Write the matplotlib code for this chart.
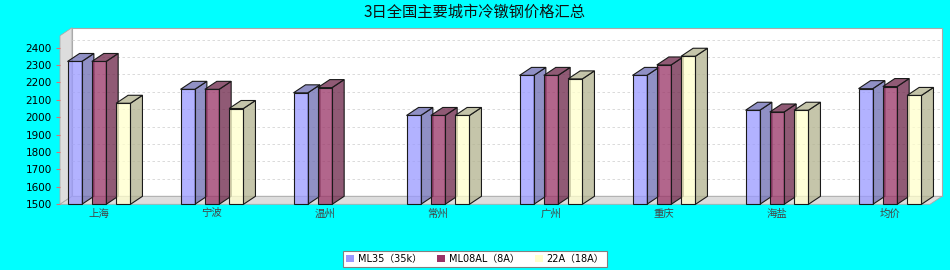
import matplotlib
matplotlib.use("Agg")
import numpy as np
import matplotlib.pyplot as plt
from matplotlib.patches import Polygon, Patch

plt.rcParams['font.family'] = ['DejaVu Sans', 'Noto Sans CJK SC']

title = "3日全国主要城市冷镦钢价格汇总"
cities = ["上海", "宁波", "温州", "常州", "广州", "重庆", "海盐", "均价"]
series_names = ["ML35（35k）", "ML08AL（8A）", "22A（18A）"]
ml35 = [2320, 2160, 2140, 2010, 2240, 2240, 2040, 2164]
ml08al = [2320, 2160, 2170, 2010, 2240, 2300, 2030, 2176]
a22 = [2080, 2050, None, 2010, 2220, 2350, 2040, 2125]
yticks = list(range(1500, 2500, 100))

colors = ["#9999FF", "#993366", "#FFFFCC"]
ALPHA = 0.75


def darker(c):
    # java.awt.Color.darker()
    r, g, b = matplotlib.colors.to_rgb(c)
    return (int(r * 255 * 0.7) / 255, int(g * 255 * 0.7) / 255, int(b * 255 * 0.7) / 255)


def rgba(c, a):
    r, g, b = matplotlib.colors.to_rgb(c)
    return (r, g, b, a)


W, H = 950, 270
fig = plt.figure(figsize=(W / 100, H / 100), dpi=100, facecolor='#00FFFF')
# front face of the 3D plot area, in pixels
L, R, T, B = 60, 930, 35.7, 204.3
ax = fig.add_axes([L / W, (H - B) / H, (R - L) / W, (B - T) / H])
ax.set_facecolor('none')
for s in ax.spines.values():
    s.set_visible(False)

x0, x1 = -0.345, 7.354
y0, y1 = 1500, 2468
ax.set_xlim(x0, x1)
ax.set_ylim(y0, y1)

# 3D depth: 12 px right, 8 px up
dx = 12 * (x1 - x0) / (R - L)
dy = 8 * (y1 - y0) / (B - T)

wall = '#DDDDDD'
wall_edge = '#AAAAAA'
# back wall
ax.add_patch(Polygon([(x0 + dx, y0 + dy), (x0 + dx, y1 + dy), (x1 + dx, y1 + dy), (x1 + dx, y0 + dy)],
                     closed=True, facecolor='white', edgecolor=wall_edge, lw=0.8, clip_on=False, zorder=0))
# left wall
ax.add_patch(Polygon([(x0, y0), (x0, y1), (x0 + dx, y1 + dy), (x0 + dx, y0 + dy)],
                     closed=True, facecolor=wall, edgecolor=wall_edge, lw=0.6, clip_on=False, zorder=0.2))
# floor
ax.add_patch(Polygon([(x0, y0), (x0 + dx, y0 + dy), (x1 + dx, y0 + dy), (x1, y0)],
                     closed=True, facecolor=wall, edgecolor=wall_edge, lw=0.6, clip_on=False, zorder=0.2))

# gridlines on the back wall
for v in yticks[1:]:
    ax.plot([x0 + dx, x1 + dx], [v + dy, v + dy], color='#D4D4D4', lw=0.6,
            ls=(0, (3, 3)), clip_on=False, zorder=0.5)

# bars
w = 0.127
step = 0.215
series = [ml35, ml08al, a22]
z = 2.0
for i in range(len(cities)):
    for j, vals in enumerate(series):
        v = vals[i]
        if v is None:
            continue
        left = i + (j - 1) * step - w / 2
        right = left + w
        z += 0.01
        side = darker(colors[j])
        ax.add_patch(Polygon([(right, y0), (right, v), (right + dx, v + dy), (right + dx, y0 + dy)],
                             closed=True, facecolor=rgba(side, ALPHA), edgecolor='#1a1a1a',
                             lw=0.8, clip_on=False, zorder=z))
        ax.add_patch(Polygon([(left, v), (left + dx, v + dy), (right + dx, v + dy), (right, v)],
                             closed=True, facecolor=rgba(side, ALPHA), edgecolor='#1a1a1a',
                             lw=0.8, clip_on=False, zorder=z))
        ax.bar(left, v - y0, bottom=y0, width=w, align='edge',
               color=rgba(colors[j], ALPHA), edgecolor='#1a1a1a', lw=0.8,
               clip_on=False, zorder=z + 0.001)

ax.set_yticks(yticks)
ax.set_yticklabels([str(t) for t in yticks])
ax.tick_params(axis='y', length=3, width=0.8, color='#E07070', pad=3, labelsize=7.5)
ax.set_xticks(range(len(cities)))
ax.set_xticklabels(cities, family=['Noto Sans CJK SC'], fontsize=7.5, color='#444444')
ax.tick_params(axis='x', length=0, pad=3)

fig.text(0.5, 1 - 12.5 / H, title, ha='center', va='center', fontsize=11,
         family=['Noto Sans CJK SC'], color='#111111')

handles = [Patch(facecolor=c, edgecolor='none') for c in colors]
leg = fig.legend(handles, series_names, loc='center', bbox_to_anchor=(0.5, 1 - 259 / H),
                 ncol=3, frameon=True, fancybox=False, edgecolor='#808080', facecolor='white',
                 framealpha=1, prop=dict(family=['DejaVu Sans', 'Noto Sans CJK SC'], size=7),
                 handlelength=0.8, handleheight=0.8, handletextpad=0.4,
                 columnspacing=1.6, borderpad=0.35)
leg.get_frame().set_linewidth(0.8)

fig.savefig("out.png", dpi=100, facecolor=fig.get_facecolor())
